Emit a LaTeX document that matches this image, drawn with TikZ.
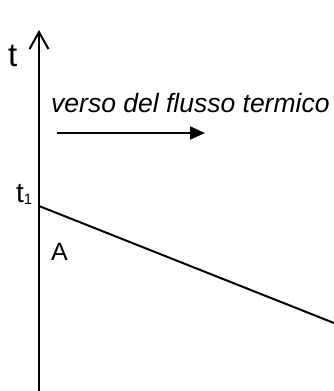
\documentclass[tikz,border=0pt]{standalone}
\usepackage{fontspec}
\setmainfont{Liberation Sans}
\usetikzlibrary{arrows.meta}
\begin{document}
\begin{tikzpicture}[x=1pt,y=-1pt,
  lbl/.style={anchor=base,inner sep=0pt,font=\fontsize{25}{30}\selectfont},
  ln/.style={line width=2pt,black}]
\useasboundingbox (0,0) rectangle (334,391);
\coordinate (axbot) at (39,391);
\coordinate (axtop) at (39,30);
\draw[ln,-{Straight Barb[length=17pt,width=19pt,line width=2pt]}] (axbot) -- (axtop);
\node[lbl,font=\fontsize{33}{36}\selectfont] (tlab) at (12.7,66) {t};
\node[lbl,anchor=base west,font=\fontsize{28}{30}\selectfont] (t1lab) at (16,202) {t\raisebox{-2pt}{\fontsize{15}{16}\selectfont 1}};
\node[lbl] (alab) at (59.5,260) {A};
\node[lbl,anchor=base west,font=\fontsize{26.5}{30}\selectfont\itshape] (verso) at (51,112) {verso del flusso termico};
\coordinate (fa) at (57,133);
\coordinate (fb) at (205,133);
\draw[ln,-{Triangle[length=15pt,width=13pt]}] (fa) -- (fb);
\coordinate (pA) at (39,206);
\coordinate (pB) at (334,323);
\draw[ln] (pA) -- (pB);
\end{tikzpicture}
\end{document}
